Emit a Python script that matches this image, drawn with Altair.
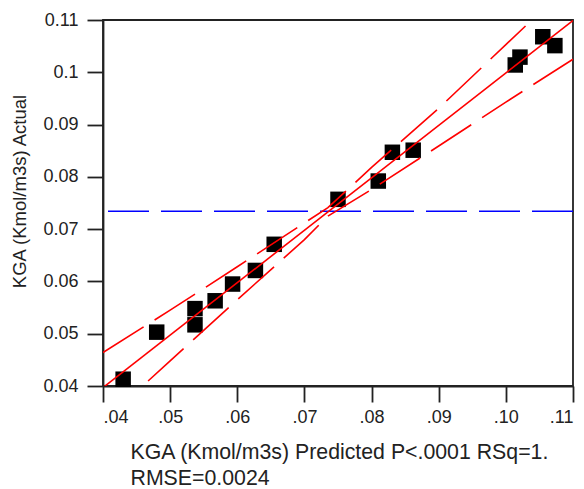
import altair as alt
import pandas as pd

# Predicted vs actual KGA (Kmol/m3s) for each run
PREDICTED = [0.0430, 0.0480, 0.0537, 0.0537, 0.0567, 0.0593, 0.0627, 0.0655,
             0.0750, 0.0810, 0.0831, 0.0862, 0.1014, 0.1021, 0.1055, 0.1073]
ACTUAL = [0.0413, 0.0503, 0.0548, 0.0517, 0.0563, 0.0595, 0.0621, 0.0671,
          0.0757, 0.0792, 0.0847, 0.0851, 0.1014, 0.1029, 0.1068, 0.1051]

# Fitted line and its confidence curves
FIT_X = [0.04, 0.11]
FIT_Y = [0.0397, 0.1099]
BAND_X = [0.04, 0.05, 0.06, 0.07, 0.0735, 0.08, 0.09, 0.10, 0.11]
BAND_UPPER = [0.0464, 0.0545, 0.0628, 0.0712, 0.0741, 0.0818, 0.0931, 0.1053, 0.1174]
BAND_LOWER = [0.0331, 0.0448, 0.0565, 0.0680, 0.0725, 0.0776, 0.0859, 0.0943, 0.1025]

# Mean of the actual response
MEAN_ACTUAL = 0.0734

TICKS = [0.04, 0.05, 0.06, 0.07, 0.08, 0.09, 0.10, 0.11]
FONT = "Liberation Sans"

points = pd.DataFrame({"pred": PREDICTED, "actual": ACTUAL})
fit = pd.DataFrame({"pred": FIT_X, "actual": FIT_Y})
upper = pd.DataFrame({"pred": BAND_X, "actual": BAND_UPPER})
lower = pd.DataFrame({"pred": BAND_X, "actual": BAND_LOWER})
mean_df = pd.DataFrame({"actual": [MEAN_ACTUAL]})

x_scale = alt.Scale(domain=[0.04, 0.11], nice=False, zero=False)
y_scale = alt.Scale(domain=[0.04, 0.11], nice=False, zero=False)

x_axis = alt.Axis(
    values=TICKS,
    labelExpr="substring(format(datum.value, '.2f'), 1)",
    grid=False,
    tickSize=16, tickWidth=1.8, tickColor="#222",
    domainColor="#222", domainWidth=1.8,
    labelFont=FONT, labelFontSize=18, labelColor="#222", labelPadding=6,
    title=["KGA (Kmol/m3s) Predicted P<.0001 RSq=1.", "RMSE=0.0024"],
    titleFont=FONT, titleFontSize=21.3, titleFontWeight="normal", titleColor="#222",
    titleX=27, titleY=72, titleAlign="left", titleBaseline="alphabetic",
    titleLineHeight=26,
)
y_axis = alt.Axis(
    values=TICKS,
    labelExpr="format(datum.value, '.2~f')",
    grid=False,
    tickSize=16, tickWidth=1.8, tickColor="#222",
    domainColor="#222", domainWidth=1.8,
    labelFont=FONT, labelFontSize=18, labelColor="#222", labelPadding=9,
    title="KGA (Kmol/m3s) Actual",
    titleFont=FONT, titleFontSize=18.5, titleFontWeight="normal", titleColor="#222",
    titleAngle=270, titleX=-78, titleY=171, titleAlign="center",
    titleBaseline="alphabetic",
)

squares = alt.Chart(points).mark_square(size=240, color="black", opacity=1).encode(
    x=alt.X("pred:Q", scale=x_scale, axis=x_axis),
    y=alt.Y("actual:Q", scale=y_scale, axis=y_axis),
)

mean_line = alt.Chart(mean_df).mark_rule(
    color="#0000ff", strokeWidth=1.5, strokeDash=[41, 12]
).encode(y=alt.Y("actual:Q", scale=y_scale))

fit_line = alt.Chart(fit).mark_line(color="#ff0000", strokeWidth=1.6, clip=True).encode(
    x=alt.X("pred:Q", scale=x_scale), y=alt.Y("actual:Q", scale=y_scale)
)

upper_line = alt.Chart(upper).mark_line(
    color="#ff0000", strokeWidth=1.6, strokeDash=[48, 13], clip=True
).encode(x=alt.X("pred:Q", scale=x_scale), y=alt.Y("actual:Q", scale=y_scale))

lower_line = alt.Chart(lower).mark_line(
    color="#ff0000", strokeWidth=1.6, strokeDash=[48, 13], clip=True
).encode(x=alt.X("pred:Q", scale=x_scale), y=alt.Y("actual:Q", scale=y_scale))

chart = (
    alt.layer(squares, mean_line, fit_line, upper_line, lower_line)
    .properties(
        width=470,
        height=366,
        autosize=alt.AutoSizeParams(type="none"),
        padding={"left": 103, "top": 20, "right": 11, "bottom": 103},
        background="white",
    )
    .configure_view(stroke="#222", strokeWidth=1.8)
)

chart.save("out.html", embed_options={"renderer": "svg", "actions": False})
